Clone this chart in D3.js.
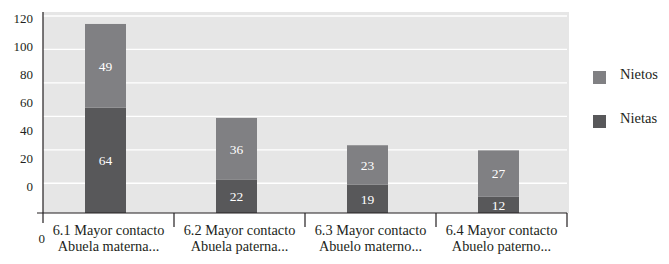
<!DOCTYPE html>
<html><head><meta charset="utf-8">
<script src="https://cdn.jsdelivr.net/npm/d3@7"></script>
<style>body{margin:0;background:#fff}svg{display:block}text{font-family:"Liberation Serif","Times New Roman",serif}</style>
</head><body><svg id="c" width="669" height="264"></svg>
<script>
const categories = ["6.1 Mayor contacto|Abuela materna...", "6.2 Mayor contacto|Abuela paterna...", "6.3 Mayor contacto|Abuelo materno...", "6.4 Mayor contacto|Abuelo paterno..."];
const nietas = [64, 22, 19, 12];
const nietos = [49, 36, 23, 27];
const yTicks = [0, 20, 40, 60, 80, 100, 120];
const seriesNames = ["Nietos", "Nietas"];
const colors = {Nietos: "#808083", Nietas: "#58585a"};

const svg = d3.select("#c");
const left = 43, right = 567, axisY = 213;

const x = d3.scaleBand().domain(categories).range([left, right]);
const yBar = d3.scaleLinear().domain([0, 120]).range([217, 12]);
const yGrid = d3.scaleLinear().domain([0, 120]).range([216.7, 16]);
const yLab = d3.scaleLinear().domain([0, 120]).range([190.5, 22.5]);

// background
svg.append("rect").attr("x", left).attr("y", 12).attr("width", 569 - left).attr("height", axisY - 12).attr("fill", "#e6e6e6");
// gridlines
svg.append("g").selectAll("line").data(yTicks.filter(t => t > 0)).join("line")
  .attr("x1", left).attr("x2", right).attr("y1", d => yGrid(d)).attr("y2", d => yGrid(d))
  .attr("stroke", "#fff").attr("stroke-width", 1.3);

const data = categories.map((c, i) => ({c, nietas: nietas[i], nietos: nietos[i]}));
const stack = d3.stack().keys(["nietas", "nietos"])(data);
const barW = 41;
const bx = c => x(c) + (x.bandwidth() - barW) / 2 - 3;
const keyColor = {nietas: colors.Nietas, nietos: colors.Nietos};

const clip = svg.append("clipPath").attr("id", "clip").append("rect").attr("x", 0).attr("y", 0).attr("width", 669).attr("height", axisY);
stack.forEach(layer => {
  const g = svg.append("g").attr("clip-path", "url(#clip)");
  g.selectAll("rect").data(layer).join("rect")
    .attr("x", d => bx(d.data.c)).attr("width", barW)
    .attr("y", d => yBar(d[1])).attr("height", d => yBar(d[0]) - yBar(d[1]))
    .attr("fill", keyColor[layer.key]);
  svg.append("g").selectAll("text").data(layer).join("text")
    .attr("x", d => bx(d.data.c) + barW / 2)
    .attr("y", d => (Math.min(yBar(d[0]), axisY) + yBar(d[1])) / 2 + 5)
    .attr("text-anchor", "middle").attr("fill", "#fff").attr("font-size", 13.5)
    .text(d => d[1] - d[0]);
});

// axes
const axisColor = "#231f20";
svg.append("line").attr("x1", left).attr("x2", left).attr("y1", 12).attr("y2", 223).attr("stroke", axisColor).attr("stroke-width", 1.2);
svg.append("line").attr("x1", 37).attr("x2", right).attr("y1", axisY).attr("y2", axisY).attr("stroke", axisColor).attr("stroke-width", 1.2);
svg.append("g").selectAll("line").data(categories).join("line")
  .attr("x1", d => x(d) + x.bandwidth()).attr("x2", d => x(d) + x.bandwidth())
  .attr("y1", axisY).attr("y2", 227).attr("stroke", axisColor).attr("stroke-width", 1.2);

// y labels
svg.append("g").selectAll("text").data(yTicks).join("text")
  .attr("x", 33).attr("y", d => yLab(d)).attr("text-anchor", "end")
  .attr("font-size", 13).attr("fill", axisColor).text(d => d);
svg.append("text").attr("x", 45).attr("y", 243).attr("text-anchor", "end").attr("font-size", 13).attr("fill", axisColor).text(yTicks[0]);

// category labels
const cl = svg.append("g").selectAll("text").data(categories).join("text")
  .attr("text-anchor", "middle").attr("font-size", 14.3).attr("fill", axisColor);
cl.each(function(d) {
  const parts = d.split("|");
  const t = d3.select(this);
  parts.forEach((p, i) => t.append("tspan").attr("x", x(d) + x.bandwidth() / 2).attr("y", 234.5 + i * 16.5).text(p));
});

// legend
const lg = svg.append("g").selectAll("g").data(seriesNames).join("g")
  .attr("transform", (d, i) => `translate(593,${71 + i * 44})`);
lg.append("rect").attr("width", 13).attr("height", 13).attr("fill", d => colors[d]);
lg.append("text").attr("x", 27).attr("y", 8).attr("font-size", 14.5).attr("fill", axisColor).text(d => d);
</script></body></html>
